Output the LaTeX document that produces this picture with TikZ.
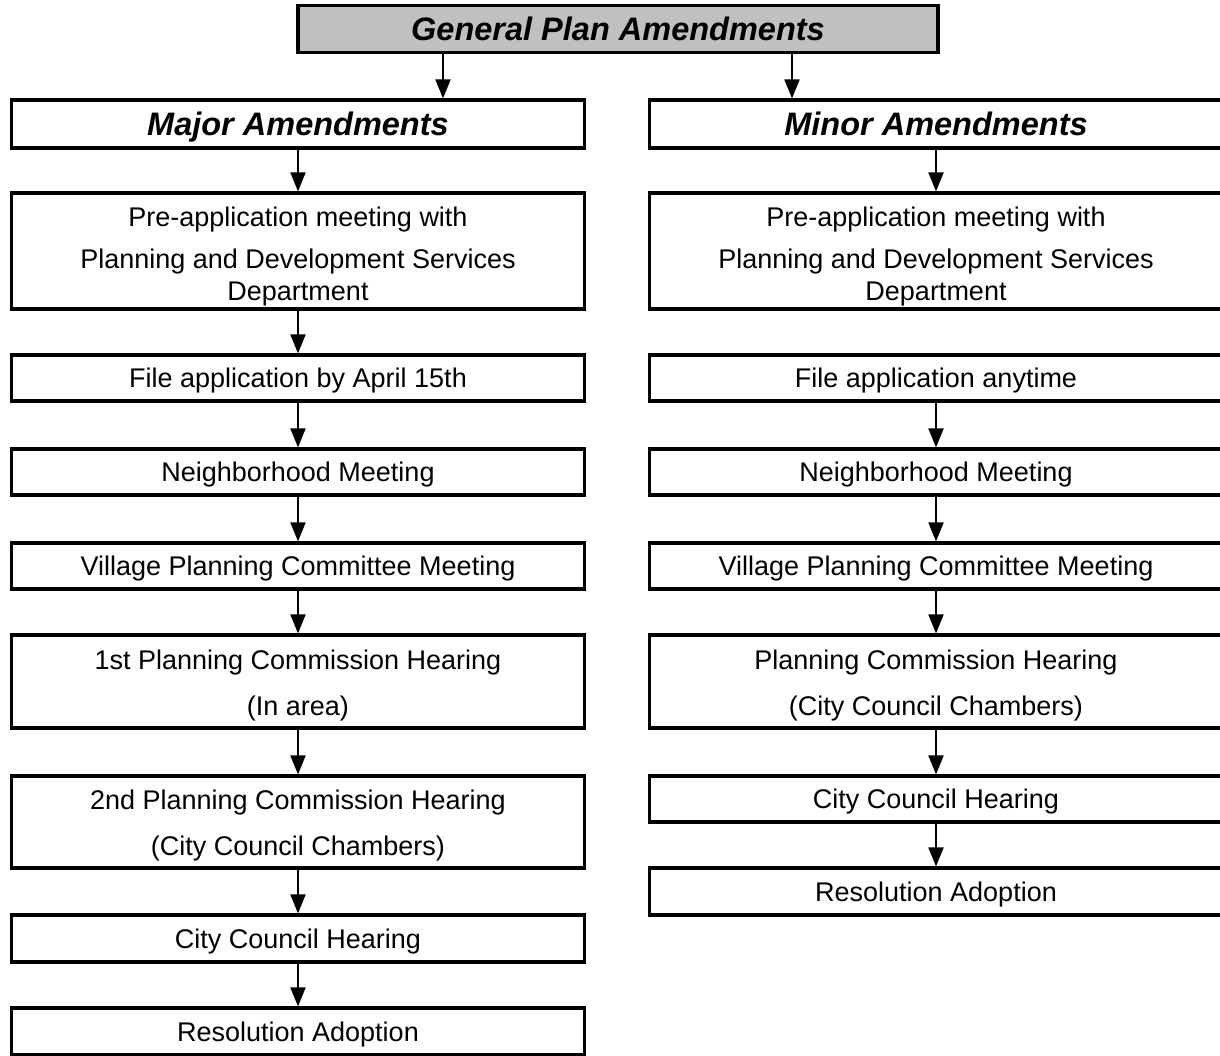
\documentclass[tikz,border=0pt]{standalone}
\usepackage{fontspec}
\setmainfont{Liberation Sans}
\usetikzlibrary{arrows.meta}
\definecolor{hdrgray}{RGB}{192,192,192}
\begin{document}
\begin{tikzpicture}[x=1pt,y=-1pt,
  box/.style={draw=black,line width=3.2pt,rectangle,minimum width=573pt,inner sep=0pt,align=center,font=\fontsize{27}{32}\selectfont},
  onebox/.style={box,text height=19.4pt,text depth=0pt},
  headbox/.style={box,font=\fontsize{32.5}{38}\selectfont\bfseries\itshape,text height=23.3pt,text depth=0pt},
  arr/.style={line width=2pt,-{Triangle[length=19pt,width=15pt]}}]
\useasboundingbox (0,0) rectangle (1220,1055);
% top
\node[headbox,fill=hdrgray,minimum width=640pt,minimum height=47pt] (gpa) at (618,29) {General Plan Amendments};
\coordinate (la) at (443,0);
\coordinate (ra) at (792,0);
% left column
\node[headbox,minimum height=48pt] (major) at (298,124) {Major Amendments};
\node[box,minimum height=116pt] (lpre) at (298,251) {\rule{0pt}{31pt}Pre-application meeting with\\[10pt]Planning and Development Services\\Department};
\node[onebox,minimum height=46pt] (lfile) at (298,378) {File application by April 15th};
\node[onebox,minimum height=46pt] (lnbh) at (298,472) {Neighborhood Meeting};
\node[onebox,minimum height=46pt] (lvpc) at (298,566) {Village Planning Committee Meeting};
\node[box,minimum height=93pt] (lpc1) at (298,681.5) {\rule{0pt}{27pt}1st Planning Commission Hearing\\[14pt](In area)};
\node[box,minimum height=92pt] (lpc2) at (298,822) {\rule{0pt}{27pt}2nd Planning Commission Hearing\\[14pt](City Council Chambers)};
\node[onebox,minimum height=47pt] (lcc) at (298,938.5) {City Council Hearing};
\node[onebox,minimum height=47pt] (lres) at (298,1031.5) {Resolution Adoption};
% right column
\node[headbox,minimum height=48pt] (minor) at (936,124) {Minor Amendments};
\node[box,minimum height=116pt] (rpre) at (936,251) {\rule{0pt}{31pt}Pre-application meeting with\\[10pt]Planning and Development Services\\Department};
\node[onebox,minimum height=46pt] (rfile) at (936,378) {File application anytime};
\node[onebox,minimum height=46pt] (rnbh) at (936,472) {Neighborhood Meeting};
\node[onebox,minimum height=46pt] (rvpc) at (936,566) {Village Planning Committee Meeting};
\node[box,minimum height=93pt] (rpc) at (936,681.5) {\rule{0pt}{27pt}Planning Commission Hearing\\[14pt](City Council Chambers)};
\node[onebox,minimum height=46pt] (rcc) at (936,799) {City Council Hearing};
\node[onebox,minimum height=47pt] (rres) at (936,891.5) {Resolution Adoption};
% arrows
\draw[arr] (gpa.south -| la) -- (major.north -| la);
\draw[arr] (gpa.south -| ra) -- (minor.north -| ra);
\draw[arr] (major) -- (lpre);
\draw[arr] (lpre) -- (lfile);
\draw[arr] (lfile) -- (lnbh);
\draw[arr] (lnbh) -- (lvpc);
\draw[arr] (lvpc) -- (lpc1);
\draw[arr] (lpc1) -- (lpc2);
\draw[arr] (lpc2) -- (lcc);
\draw[arr] (lcc) -- (lres);
\draw[arr] (minor) -- (rpre);
\draw[arr] (rfile) -- (rnbh);
\draw[arr] (rnbh) -- (rvpc);
\draw[arr] (rvpc) -- (rpc);
\draw[arr] (rpc) -- (rcc);
\draw[arr] (rcc) -- (rres);
\end{tikzpicture}
\end{document}
